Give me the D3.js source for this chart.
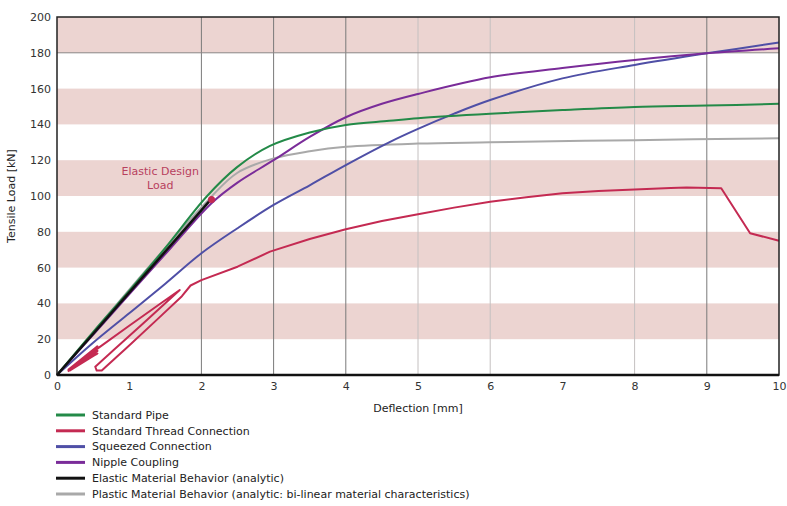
<!DOCTYPE html>
<html>
<head>
<meta charset="utf-8">
<script src="https://cdn.jsdelivr.net/npm/d3@7"></script>
<style>
    body { margin: 0; background: #fff; }
    svg { display: block; font-family: "DejaVu Sans", Verdana, sans-serif; }
</style>
</head>
<body>
<div id="chart"></div>
<script>
// deflection [mm] / load [kN] pairs
const standardPipe = [[0,0],[0.5,24],[1,47],[1.5,71],[2.07,99.6],[2.49,116],[2.95,128],[3.5,135.5],[4,139.7],[4.6,142],[5,143.5],[6,146],[7,148],[8,149.7],[9,150.5],[10,151.5]];
const threadConnection = [[0.15,2],[0.56,16],[0.16,3],[0.56,13.5],[0.18,2.5],[0.56,12],[0.2,4],[0.57,15],[1,27.5],[1.4,39],[1.7,47.5],[1.2,29],[0.8,14.5],[0.53,4.6],[0.55,2.5],[0.62,2.5],[1,16.5],[1.4,31.5],[1.73,44],[1.85,50],[2,53],[2.5,60.5],[2.95,68.9],[3.5,76],[4,81.4],[4.5,86],[5,89.8],[5.5,93.5],[6,96.8],[6.5,99.3],[7,101.5],[7.5,102.8],[8,103.7],[8.5,104.5],[8.72,104.8],[9.2,104.3],[9.6,79.2],[10,75]];
const squeezedConnection = [[0,0],[0.5,18],[1,34.5],[1.5,51],[2,68],[2.5,82],[3,95],[3.5,106],[4,117.3],[4.6,130],[5,137.5],[5.5,146],[6,153.6],[7,165.7],[8,173.2],[9,179.7],[10,185.7]];
const nippleCoupling = [[0,0],[0.5,22.5],[1,45],[1.5,67.5],[2.14,96],[2.5,107.5],[3,120],[3.5,133],[4,144],[4.5,151.5],[5,157],[6,166.3],[7,171.5],[8,176],[9,179.7],[10,182.5]];
const elasticAnalytic = [[0,0],[2.12,97.5]];
const plasticAnalytic = [[0,0],[2.1,98],[2.5,113],[3,121],[3.5,125],[4,127.5],[5,129.3],[6,130],[8,131.2],[10,132.3]];

const designLoadPoint = [2.14, 98];
const designLoadLabel = ['Elastic Design', 'Load'];

const xTicks = [0,1,2,3,4,5,6,7,8,9,10];
const yTicks = [0,20,40,60,80,100,120,140,160,180,200];
const bandRanges = [[20,40],[60,80],[100,120],[140,160],[180,200]];
const darkGridX = [2,3,4,9];
const lightGridX = [5,6,8];
const darkGridY = [180];

const seriesNames = ['Standard Pipe','Standard Thread Connection','Squeezed Connection','Nipple Coupling','Elastic Material Behavior (analytic)','Plastic Material Behavior (analytic: bi-linear material characteristics)'];
const seriesColors = ['#238a48','#c42a52','#4f4fa6','#7a2c99','#111111','#a9a9a9'];
const seriesData = [standardPipe, threadConnection, squeezedConnection, nippleCoupling, elasticAnalytic, plasticAnalytic];
// drawing order: gray first, black on top
const drawOrder = [5, 2, 1, 3, 0, 4];

const width = 787, height = 506;
const margin = {top: 17, right: 8, bottom: 131, left: 57};
const fontSize = '11px';

const svg = d3.select('#chart').append('svg')
    .attr('width', width)
    .attr('height', height);

const x = d3.scaleLinear().domain([0, 10]).range([margin.left, width - margin.right]);
const y = d3.scaleLinear().domain([0, 200]).range([height - margin.bottom, margin.top]);

// pink bands
svg.append('g').selectAll('rect')
    .data(bandRanges)
    .enter().append('rect')
    .attr('x', x(0))
    .attr('width', x(10) - x(0))
    .attr('y', d => y(d[1]))
    .attr('height', d => y(d[0]) - y(d[1]))
    .attr('fill', '#ecd4d1');

// grid lines
svg.append('g').selectAll('line')
    .data(lightGridX)
    .enter().append('line')
    .attr('x1', d => x(d)).attr('x2', d => x(d))
    .attr('y1', y(0)).attr('y2', y(200))
    .attr('stroke', '#c4c0c0').attr('stroke-width', 1);

svg.append('g').selectAll('line')
    .data(darkGridX)
    .enter().append('line')
    .attr('x1', d => x(d)).attr('x2', d => x(d))
    .attr('y1', y(0)).attr('y2', y(200))
    .attr('stroke', '#7a7a7a').attr('stroke-width', 1);

svg.append('g').selectAll('line')
    .data(darkGridY)
    .enter().append('line')
    .attr('x1', x(0)).attr('x2', x(10))
    .attr('y1', d => y(d)).attr('y2', d => y(d))
    .attr('stroke', '#8a8686').attr('stroke-width', 1);

// axes (labels only, frame drawn separately)
const xAxis = svg.append('g')
    .attr('transform', `translate(0,${y(0)})`)
    .call(d3.axisBottom(x).tickValues(xTicks).tickSize(0).tickPadding(7).tickFormat(d3.format('d')));
const yAxis = svg.append('g')
    .attr('transform', `translate(${x(0)},0)`)
    .call(d3.axisLeft(y).tickValues(yTicks).tickSize(0).tickPadding(6).tickFormat(d3.format('d')));
[xAxis, yAxis].forEach(a => {
    a.select('.domain').remove();
    a.selectAll('text').attr('font-size', fontSize).attr('fill', '#333').attr('font-family', '"DejaVu Sans", Verdana, sans-serif');
});

// curves
const smooth = d3.line().x(d => x(d[0])).y(d => y(d[1])).curve(d3.curveCatmullRom.alpha(0.5));
const straight = d3.line().x(d => x(d[0])).y(d => y(d[1]));

drawOrder.forEach(i => {
    svg.append('path')
        .attr('d', (i === 1 || i === 4) ? straight(seriesData[i]) : smooth(seriesData[i]))
        .attr('fill', 'none')
        .attr('stroke', seriesColors[i])
        .attr('stroke-width', i === 4 ? 2.6 : 2)
        .attr('stroke-linejoin', 'round');
});

// design load marker and label
svg.append('circle')
    .attr('cx', x(designLoadPoint[0]))
    .attr('cy', y(designLoadPoint[1]))
    .attr('r', 3.5)
    .attr('fill', '#c42a52');

svg.append('text')
    .attr('x', x(1.43))
    .attr('y', y(112))
    .attr('text-anchor', 'middle')
    .attr('font-size', fontSize)
    .attr('fill', '#b8405e')
    .selectAll('tspan')
    .data(designLoadLabel)
    .enter().append('tspan')
    .attr('x', x(1.43))
    .attr('dy', (d, i) => i === 0 ? 0 : 14)
    .text(d => d);

// plot frame
svg.append('rect')
    .attr('x', x(0)).attr('y', y(200))
    .attr('width', x(10) - x(0)).attr('height', y(0) - y(200))
    .attr('fill', 'none').attr('stroke', '#222').attr('stroke-width', 1.5);
svg.append('line')
    .attr('x1', x(0)).attr('x2', x(10))
    .attr('y1', y(0)).attr('y2', y(0))
    .attr('stroke', '#111').attr('stroke-width', 2.5);

// axis titles
svg.append('text')
    .attr('x', (x(0) + x(10)) / 2)
    .attr('y', 412)
    .attr('text-anchor', 'middle')
    .attr('font-size', fontSize)
    .attr('fill', '#222')
    .text('Deflection [mm]');

svg.append('text')
    .attr('transform', `translate(15,${(y(0) + y(200)) / 2}) rotate(-90)`)
    .attr('text-anchor', 'middle')
    .attr('font-size', fontSize)
    .attr('fill', '#222')
    .text('Tensile Load [kN]');

// legend
const legend = svg.append('g').attr('transform', 'translate(56,415)');
const rows = legend.selectAll('g')
    .data(seriesNames)
    .enter().append('g')
    .attr('transform', (d, i) => `translate(0,${i * 15.8})`);
rows.append('line')
    .attr('x1', 0).attr('x2', 29)
    .attr('stroke', (d, i) => seriesColors[i])
    .attr('stroke-width', 3);
rows.append('text')
    .attr('x', 36)
    .attr('dy', '0.35em')
    .attr('font-size', fontSize)
    .attr('fill', '#222')
    .text(d => d);
</script>
</body>
</html>
